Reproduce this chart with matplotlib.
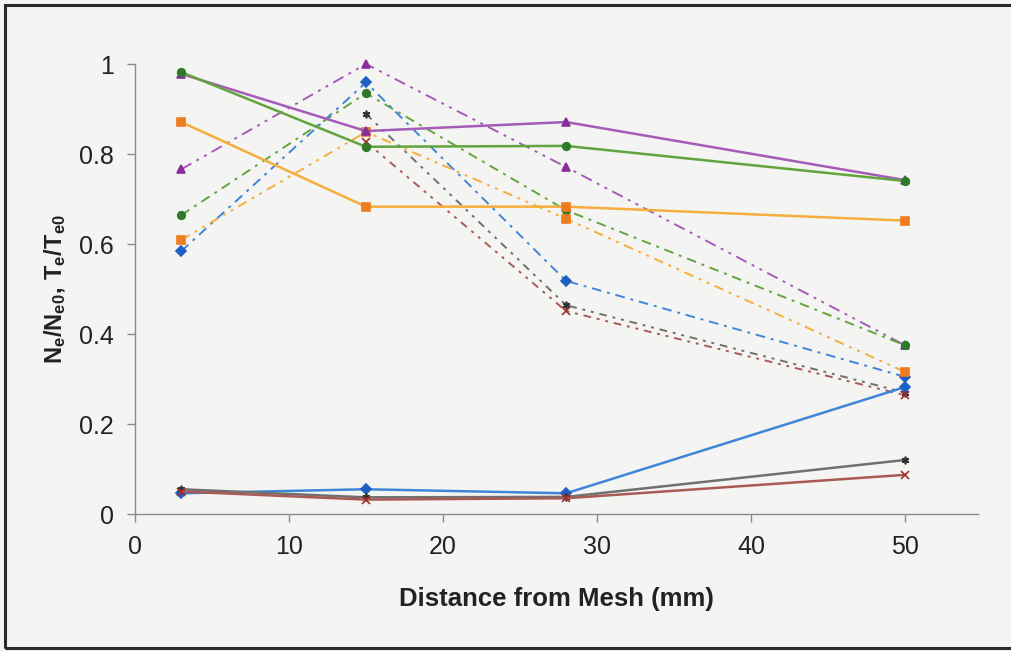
import numpy as np
import matplotlib
matplotlib.use("Agg")
import matplotlib.pyplot as plt
from matplotlib.patches import Rectangle

# distance from mesh (mm)
dist = [3, 15, 28, 50]

# solid lines
purple_solid = [0.978, 0.851, 0.871, 0.742]
green_solid = [0.982, 0.816, 0.818, 0.740]
orange_solid = [0.871, 0.683, 0.683, 0.652]
blue_solid = [0.046, 0.055, 0.046, 0.282]
gray_solid = [0.055, 0.037, 0.038, 0.120]
red_solid = [0.050, 0.032, 0.035, 0.087]

# dashed lines
purple_dash = [0.766, 1.000, 0.771, 0.375]
green_dash = [0.664, 0.935, 0.675, 0.375]
blue_dash = [0.584, 0.959, 0.518, 0.305]
orange_dash = [0.609, 0.849, 0.656, 0.316]
gray_dash = [np.nan, 0.889, 0.464, 0.270]
red_dash = [np.nan, 0.827, 0.451, 0.264]

xticks = [0, 10, 20, 30, 40, 50]
yticks = [0, 0.2, 0.4, 0.6, 0.8, 1]
yticklabels = ["0", "0.2", "0.4", "0.6", "0.8", "1"]

plt.rcParams['font.family'] = ['Liberation Sans', 'DejaVu Sans']
plt.rcParams['mathtext.fontset'] = 'custom'
plt.rcParams['mathtext.rm'] = 'Liberation Sans:bold'
plt.rcParams['mathtext.bf'] = 'Liberation Sans:bold'
plt.rcParams['mathtext.it'] = 'Liberation Sans:bold'

bg = '#f4f4f2'
fig = plt.figure(figsize=(10.11, 6.51), dpi=100, facecolor=bg)
ax = fig.add_axes([135/1011, 1-514/651, (978-135)/1011, (514-64)/651])
ax.set_facecolor(bg)

# frame around the scanned figure
fig.patches.append(Rectangle((5/1011, 3/651), 1.1, 1-8/651, transform=fig.transFigure,
                             fill=False, edgecolor='#2a2a2a', linewidth=2.2))

cols = {
    'purple': ('#a55bb8', '#8a2d9c'),
    'green': ('#62a43e', '#2f7a2a'),
    'orange': ('#f5ad3c', '#ee7d22'),
    'blue': ('#3f85d8', '#1d5fc4'),
    'gray': ('#707070', '#303030'),
    'red': ('#a95a55', '#a0302c'),
}

solid = [
    (purple_solid, 'purple', '^'),
    (green_solid, 'green', 'o'),
    (orange_solid, 'orange', 's'),
    (blue_solid, 'blue', 'D'),
    (gray_solid, 'gray', (6, 2, 0)),
    (red_solid, 'red', 'x'),
]
dashed = [
    (purple_dash, 'purple', '^', (0, (6, 3, 1.5, 3, 1.5, 3))),
    (green_dash, 'green', 'o', (0, (5, 3, 1.5, 3))),
    (blue_dash, 'blue', 'D', (0, (5, 3, 1.5, 3))),
    (orange_dash, 'orange', 's', (0, (5, 3, 1.5, 3, 1.5, 3))),
    (gray_dash, 'gray', (6, 2, 0), (0, (4, 3, 1.5, 3, 1.5, 3))),
    (red_dash, 'red', 'x', (0, (4, 3, 1.5, 3, 1.5, 3))),
]

for y, c, m, ls in dashed:
    lc, mc = cols[c]
    ax.plot(dist, y, color=lc, linestyle=ls, linewidth=1.4, marker=m, markersize=5.5,
            markerfacecolor=mc, markeredgecolor=mc, markeredgewidth=1.2, clip_on=False)

for y, c, m in solid:
    lc, mc = cols[c]
    ax.plot(dist, y, color=lc, linestyle='-', linewidth=1.8, marker=m, markersize=5.5,
            markerfacecolor=mc, markeredgecolor=mc, markeredgewidth=1.2, clip_on=False)

ax.set_xlim(0, 54.75)
ax.set_ylim(0, 1)
ax.set_xticks(xticks)
ax.set_yticks(yticks)
ax.set_yticklabels(yticklabels)

for s in ['top', 'right']:
    ax.spines[s].set_visible(False)
for s in ['left', 'bottom']:
    ax.spines[s].set_color('#8a8a8a')
    ax.spines[s].set_linewidth(1.0)
ax.tick_params(direction='out', length=6, width=1.0, color='#8a8a8a',
               labelsize=18, labelcolor='#222222', pad=9)

ax.set_xlabel('Distance from Mesh (mm)', fontsize=18.5, fontweight='bold',
              color='#222222', labelpad=20)
ax.set_ylabel(r'$\mathrm{N_e/N_{e0}},\,\mathrm{T_e/T_{e0}}$', fontsize=17,
              color='#222222', labelpad=8)

fig.savefig('out.png', dpi=100, facecolor=bg)
